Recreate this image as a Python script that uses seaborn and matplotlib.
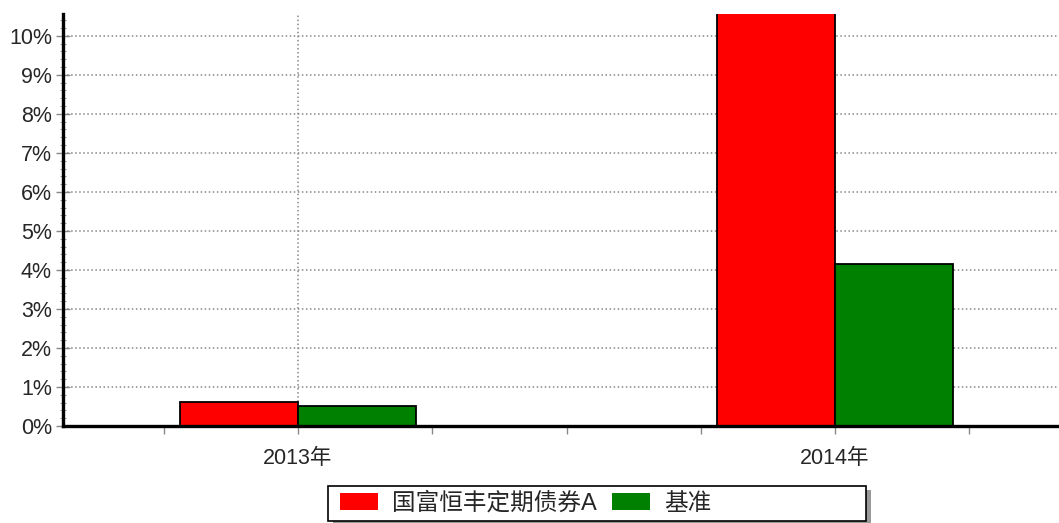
import matplotlib
matplotlib.use("Agg")
import matplotlib.pyplot as plt
import seaborn as sns
import pandas as pd
from matplotlib.patches import Rectangle
from matplotlib.ticker import MultipleLocator, FuncFormatter

years = ["2013年", "2014年"]
series_names = ["国富恒丰定期债券A", "基准"]
fund_values = [0.62, 11.8]
bench_values = [0.52, 4.15]
colors = ["#ff0000", "#008000"]

df = pd.DataFrame({
    "year": years * 2,
    "series": [series_names[0]] * 2 + [series_names[1]] * 2,
    "value": fund_values + bench_values,
})

sns.set_style("white")
plt.rcParams["font.family"] = ["Liberation Sans", "Noto Sans CJK SC", "DejaVu Sans"]

W, H = 1059, 523
fig = plt.figure(figsize=(W / 100, H / 100), dpi=100)
ax = fig.add_axes([63 / W, 1 - 426 / H, 1 - 63 / W, (426 - 14) / H])

sns.barplot(data=df, x="year", y="value", hue="series", palette=colors, saturation=1,
            width=0.44, edgecolor="black", linewidth=1.3, ax=ax, zorder=3)

ax.set_xlim(-0.4376, 1.417)
ax.set_ylim(0, 10.56)
ax.yaxis.set_major_locator(MultipleLocator(1))
ax.yaxis.set_minor_locator(MultipleLocator(0.2))
ax.yaxis.set_major_formatter(FuncFormatter(lambda v, p: f"{v:.0f}%"))
ax.xaxis.set_minor_locator(MultipleLocator(0.25))

ax.grid(True, axis="both", which="major", color="#888888", linestyle=":", linewidth=1.1, zorder=0)
ax.set_axisbelow(True)

for side in ["top", "right"]:
    ax.spines[side].set_visible(False)
for side in ["left", "bottom"]:
    ax.spines[side].set_color("black")
    ax.spines[side].set_linewidth(2.4)
    ax.spines[side].set_zorder(5)

ax.tick_params(axis="y", which="both", left=True)
ax.tick_params(axis="x", which="both", bottom=True)
ax.tick_params(axis="y", which="major", length=10, width=1, color="#888888",
               direction="inout", labelsize=15.5, pad=3)
ax.tick_params(axis="y", which="minor", length=4, width=0.8, color="#999999", direction="inout")
ax.tick_params(axis="x", which="both", length=6, width=1, color="#888888",
               direction="out", labelsize=15.5, pad=10)

ax.set_xlabel("")
ax.set_ylabel("")

ax.legend_.remove()
handles, labels = ax.get_legend_handles_labels()
leg = fig.legend(handles, labels, loc="center left", bbox_to_anchor=(340 / W, 1 - 503.5 / H),
                 ncol=2, fontsize=17, frameon=False,
                 handlelength=1.6, handleheight=0.7, handletextpad=0.6, columnspacing=0.65,
                 borderpad=0, borderaxespad=0)
for h in leg.legend_handles:
    h.set_edgecolor("none")

# legend frame with shadow on the right
fig.patches.append(Rectangle((333 / W, 1 - 525 / H), 538 / W, 35 / H, transform=fig.transFigure,
                             facecolor="#999999", edgecolor="none", zorder=0))
fig.patches.append(Rectangle((328 / W, 1 - 521 / H), 538 / W, 35 / H, transform=fig.transFigure,
                             facecolor="white", edgecolor="black", linewidth=1.2, zorder=1))

fig.savefig("out.png", dpi=100)
